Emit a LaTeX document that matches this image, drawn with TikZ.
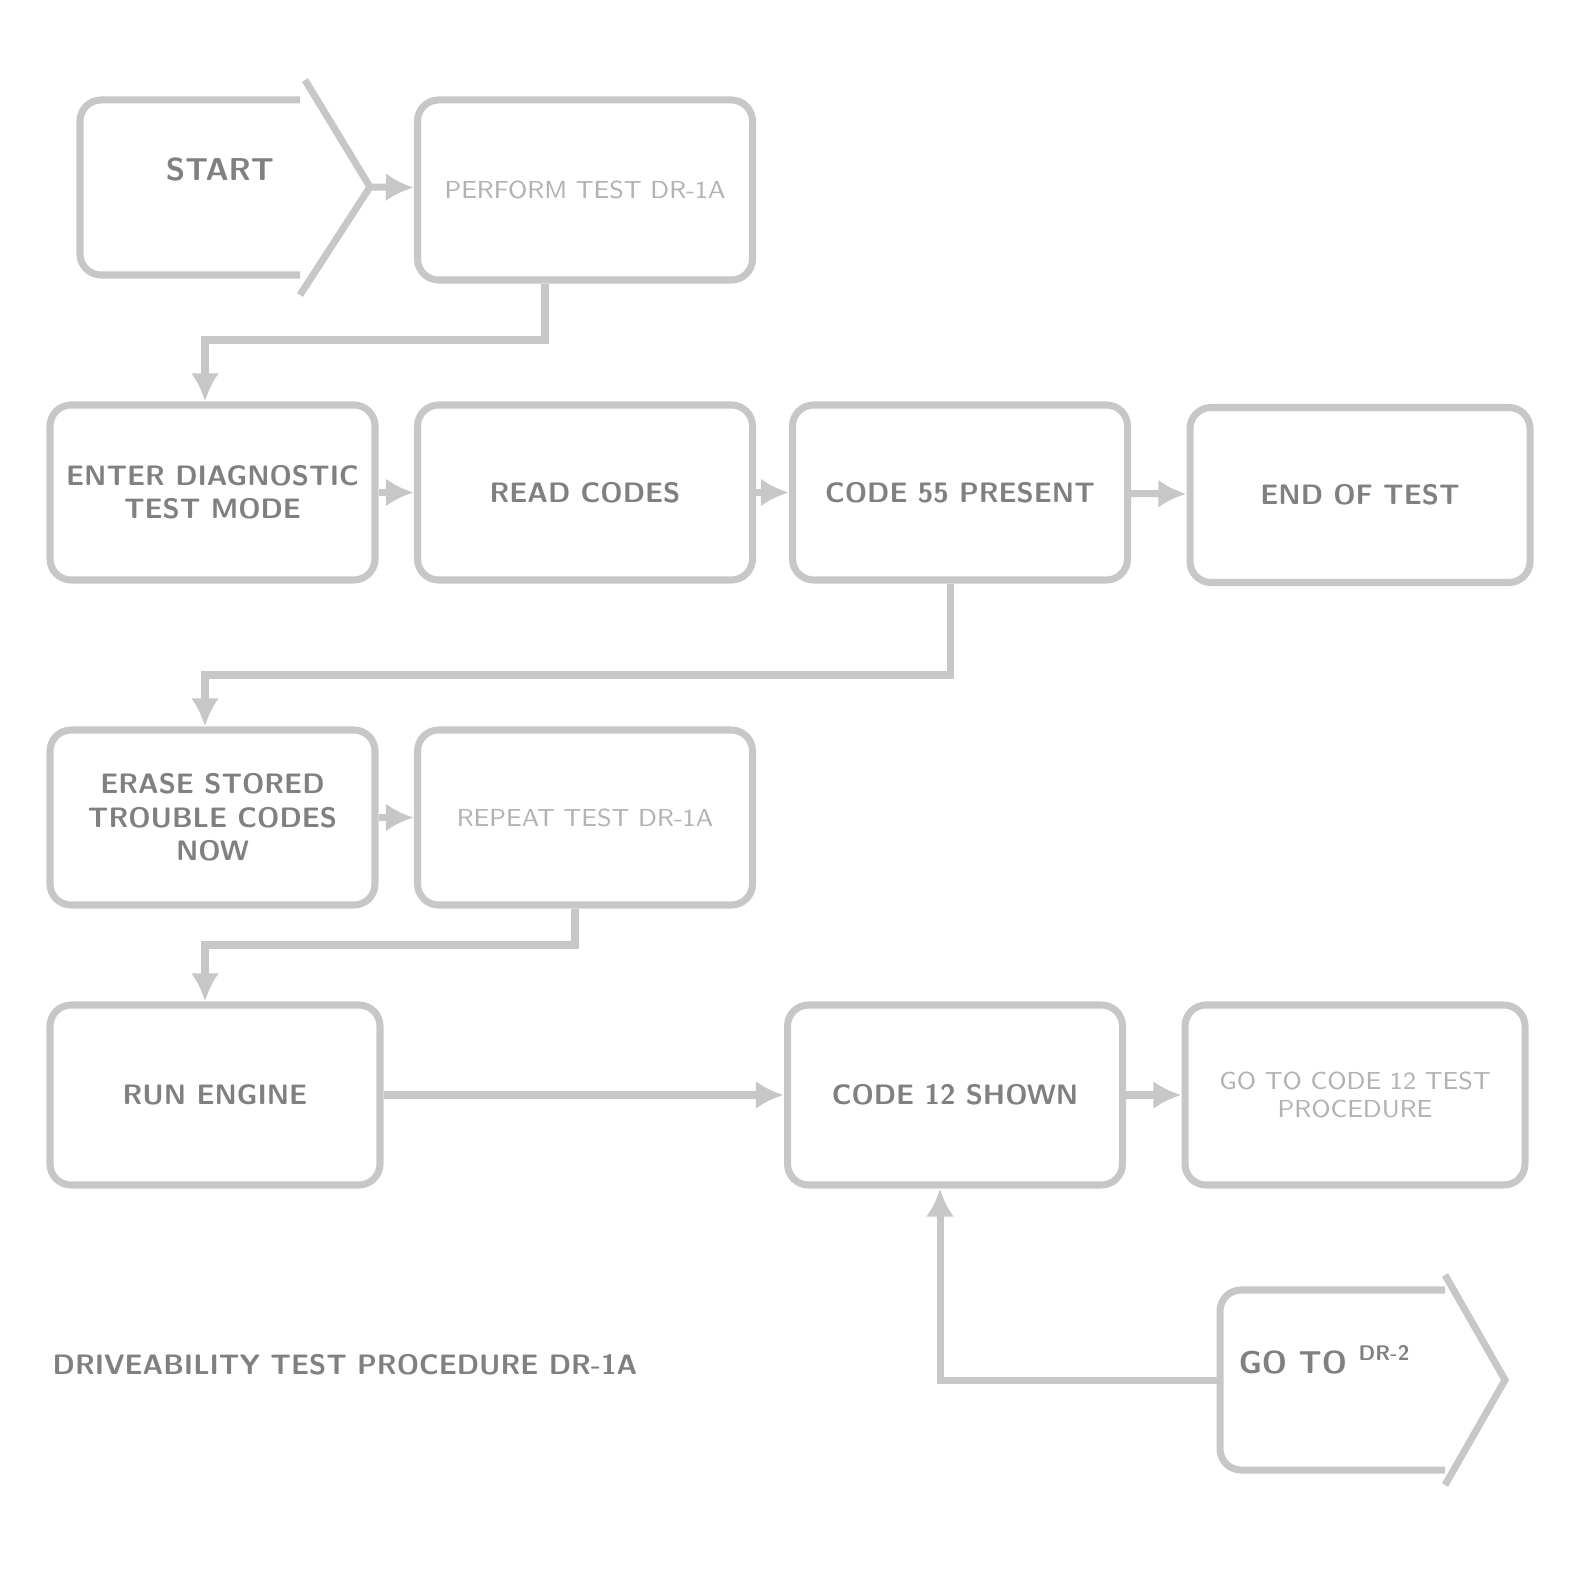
\documentclass[tikz,border=0pt]{standalone}
\usepackage{tikz}
\usetikzlibrary{positioning,calc,arrows.meta}

\begin{document}
\begin{tikzpicture}[
    line width=2pt, draw=black!22, color=black!22,
    box/.style={draw=black!22, rounded corners=6pt, minimum width=3.3cm, minimum height=1.75cm,
        align=center, text=black!50, font=\sffamily\bfseries\footnotesize},
    thin/.style={text=black!30, font=\sffamily\scriptsize},
    link/.style={-{Latex[length=8pt,width=8pt]}}]
    \useasboundingbox (0,0) rectangle (15.72,-15.89);

    % Start marker
    \draw[rounded corners=6pt] (3.0,-1.0) -| (0.8,-2.75) -- (3.0,-2.75);
    \draw (3.05,-0.8) -- (3.7,-1.87) -- (3.0,-2.95);
    \node[text=black!50, font=\sffamily\bfseries\small] (start) at (2.2,-1.7) {START};
    \coordinate (starttip) at (3.7,-1.87);
    \node[box, thin, minimum width=3.35cm, minimum height=1.8cm] (test) at (5.85,-1.9) {PERFORM TEST DR-1A};

    % Second row
    \node[box, minimum width=3.25cm] (enter) at (2.125,-4.925) {ENTER DIAGNOSTIC\\TEST MODE};
    \node[box, minimum width=3.35cm] (read) at (5.85,-4.925) {READ CODES};
    \node[box, minimum width=3.35cm] (code55) at (9.6,-4.925) {CODE 55 PRESENT};
    \node[box, minimum width=3.4cm] (endtest) at (13.6,-4.95) {END OF TEST};

    % Third row
    \node[box, minimum width=3.25cm] (erase) at (2.125,-8.175) {ERASE STORED\\TROUBLE CODES\\NOW};
    \node[box, thin, minimum width=3.35cm] (repeat) at (5.85,-8.175) {REPEAT TEST DR-1A};

    % Fourth row
    \node[box, minimum width=3.3cm, minimum height=1.8cm] (run) at (2.15,-10.95) {RUN ENGINE};
    \node[box, minimum width=3.35cm, minimum height=1.8cm] (code12) at (9.55,-10.95) {CODE 12 SHOWN};
    \node[box, thin, minimum width=3.4cm, minimum height=1.8cm] (goto) at (13.55,-10.95) {GO TO CODE 12 TEST\\PROCEDURE};

    % Continue marker
    \draw[rounded corners=6pt] (14.45,-12.9) -| (12.2,-14.7) -- (14.45,-14.7);
    \draw (14.45,-12.75) -- (15.05,-13.8) -- (14.45,-14.85);
    \node[text=black!50, font=\sffamily\bfseries\small] (next) at (13.25,-13.6) {GO TO \textsuperscript{DR-2}};
    \coordinate (nextin) at (12.2,-13.8);

    % Caption
    \node[text=black!50, font=\sffamily\bfseries\footnotesize] (caption) at (3.45,-13.65) {DRIVEABILITY TEST PROCEDURE DR-1A};

    % Connections
    \draw[link] (starttip) -- (test);
    \draw[link] (test.south) ++(-0.4,0) |- (2.05,-3.4) -- (enter.north -| 2.05,0);
    \draw[link] (enter) -- (read);
    \draw[link] (read) -- (code55);
    \draw[link] (code55) -- (endtest);
    \draw[link] ($(code55.south)+(-0.1,0)$) |- (2.05,-6.75) -- (erase.north -| 2.05,0);
    \draw[link] (erase) -- (repeat);
    \draw[link] ($(repeat.south)+(-0.1,0)$) |- (2.05,-9.45) -- (run.north -| 2.05,0);
    \draw[link] (run) -- (code12);
    \draw[link] (code12) -- (goto);
    \draw[link] (nextin) -| ($(code12.south)+(-0.15,0)$);
\end{tikzpicture}
\end{document}
